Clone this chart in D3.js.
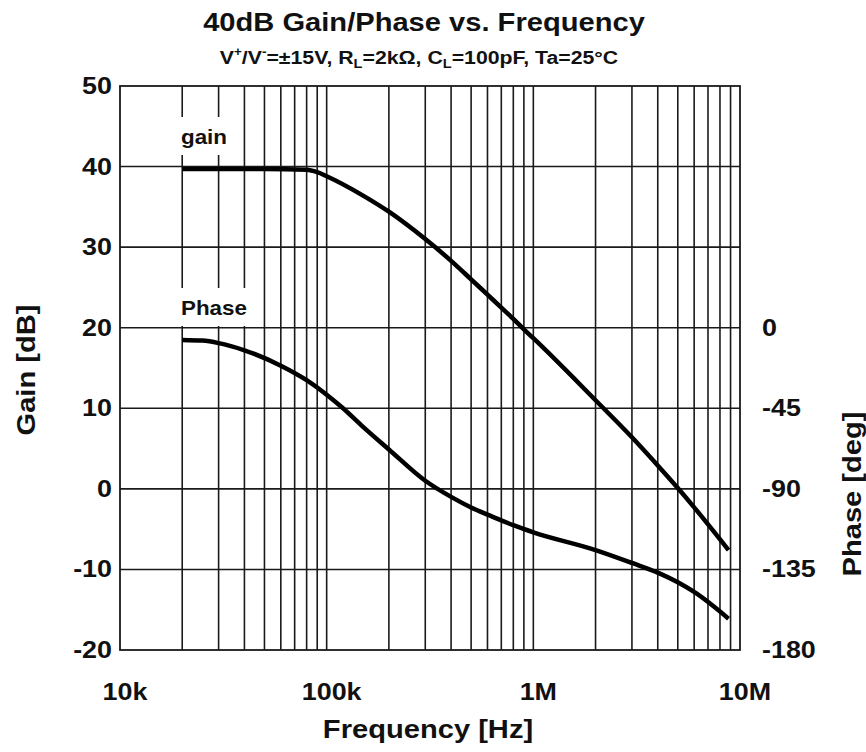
<!DOCTYPE html>
<html><head><meta charset="utf-8">
<script src="https://cdn.jsdelivr.net/npm/d3@7"></script>
<style>body{margin:0;background:#fff}svg{display:block}text{font-family:"Liberation Sans",Arial,sans-serif;font-weight:bold;fill:#111}</style>
</head><body><svg id="c" width="866" height="752"></svg>
<script>
// ---- data ----
const gainFreq = [2e4, 3e4, 5e4, 8e4, 9e4, 1e5, 1.5e5, 2e5, 3e5, 4e5, 5e5, 6e5, 7e5, 8e5, 9e5, 1e6, 2e6, 3e6, 4e6, 5e6, 6e6, 8.8e6];
const gainDb   = [39.7, 39.7, 39.7, 39.6, 39.3, 38.8, 36.4, 34.4, 31.0, 28.3, 26.0, 24.1, 22.5, 21.1, 19.8, 18.7, 11.0, 6.4, 2.9, 0.1, -2.3, -7.6];
const phaseFreq = [2e4, 2.5e4, 3e4, 4e4, 6e4, 8e4, 1e5, 1.2e5, 1.5e5, 2e5, 3e5, 4e5, 5e5, 6e5, 7e5, 8e5, 1e6, 2e6, 3e6, 4e6, 5e6, 6e6, 8.8e6];
const phaseDeg  = [-6.8, -7.2, -8.6, -12.6, -21.2, -29.3, -37.4, -45.0, -55.4, -68.0, -85.5, -94.5, -100.4, -104.4, -107.6, -110.3, -114.3, -124.2, -131.4, -136.8, -142.2, -147.6, -162.5];
const gainTicks = [50, 40, 30, 20, 10, 0, -10, -20];
const phaseTicks = [0, -45, -90, -135, -180];
const freqTicks = [1e4, 1e5, 1e6, 1e7];
const freqTickLabels = ["10k", "100k", "1M", "10M"];

// ---- layout ----
const L = 120, R = 740, T = 86, B = 650, SX = 1.12;
const svg = d3.select("#c");
const x = d3.scaleLog().domain([1e4, 1e7]).range([L, R]);
const y = d3.scaleLinear().domain([-20, 50]).range([B, T]);
const yP = d3.scaleLinear().domain([-180, 135]).range([B, T]);

function txt(xx, yy, s, size, anchor, rot) {
  const t = svg.append("text")
    .attr("transform", `translate(${xx},${yy})` + (rot ? ` rotate(${rot})` : "") + ` scale(${SX},1)`)
    .attr("font-size", size).attr("text-anchor", anchor || "middle");
  if (s !== null) t.text(s);
  return t;
}

// grid
const g = svg.append("g").attr("stroke", "#1a1a1a").attr("stroke-width", 1.6);
g.selectAll("line.v").data(x.ticks().filter(d => d > 1e4 && d < 1e7)).join("line")
  .attr("x1", d => x(d)).attr("x2", d => x(d)).attr("y1", T).attr("y2", B);
g.selectAll("line.h").data(gainTicks.filter(d => d > -20 && d < 50)).join("line")
  .attr("x1", L).attr("x2", R).attr("y1", d => y(d)).attr("y2", d => y(d));
svg.append("rect").attr("x", L).attr("y", T).attr("width", R - L).attr("height", B - T)
  .attr("fill", "none").attr("stroke", "#1a1a1a").attr("stroke-width", 1.8);

// label boxes (white background breaking the grid)
svg.append("rect").attr("x", 176).attr("y", 117).attr("width", 57).attr("height", 38).attr("fill", "#fff");
svg.append("rect").attr("x", 176).attr("y", 288).attr("width", 76).attr("height", 38).attr("fill", "#fff");
txt(181, 143.5, "gain", 20, "start");
txt(181, 315, "Phase", 20, "start");

// curves
const gainData = gainFreq.map((f, i) => [f, gainDb[i]]);
const phaseData = phaseFreq.map((f, i) => [f, phaseDeg[i]]);
svg.append("path").datum(gainData)
  .attr("d", d3.line().x(d => x(d[0])).y(d => y(d[1])).curve(d3.curveMonotoneX))
  .attr("fill", "none").attr("stroke", "#000").attr("stroke-width", 4.5);
svg.append("path").datum(phaseData)
  .attr("d", d3.line().x(d => x(d[0])).y(d => yP(d[1])).curve(d3.curveMonotoneX))
  .attr("fill", "none").attr("stroke", "#000").attr("stroke-width", 4.5);

// tick labels
gainTicks.forEach(v => txt(112, y(v) + 8, String(v), 24, "end"));
phaseTicks.forEach(v => txt(762, yP(v) + 8, String(v), 24, "start"));
freqTicks.forEach((f, i) => txt(x(f) + 5, 700, freqTickLabels[i], 24, "middle"));

// axis titles
txt(428, 738, "Frequency [Hz]", 26, "middle");
txt(35, 370, "Gain [dB]", 26, "middle", -90);
txt(861, 494, "Phase [deg]", 26, "middle", -90);

// titles
txt(424, 31, "40dB Gain/Phase vs. Frequency", 26, "middle");
const st = txt(419, 63.5, null, 19, "middle");
st.append("tspan").text("V");
st.append("tspan").attr("dy", -8).attr("font-size", 12).text("+");
st.append("tspan").attr("dy", 8).text("/V");
st.append("tspan").attr("dy", -8).attr("font-size", 12).text("-");
st.append("tspan").attr("dy", 8).text("=±15V, R");
st.append("tspan").attr("dy", 4).attr("font-size", 13).text("L");
st.append("tspan").attr("dy", -4).text("=2kΩ, C");
st.append("tspan").attr("dy", 4).attr("font-size", 13).text("L");
st.append("tspan").attr("dy", -4).text("=100pF, Ta=25°C");
</script></body></html>
